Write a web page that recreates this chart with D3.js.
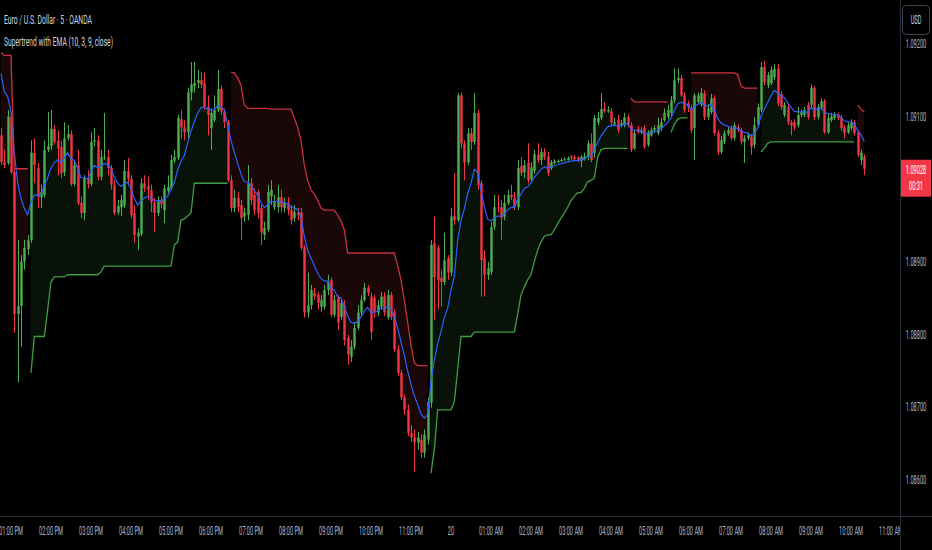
<!DOCTYPE html>
<html><head><meta charset="utf-8">
<script src="https://cdn.jsdelivr.net/npm/d3@7"></script>
<style>html,body{margin:0;padding:0;background:#000;overflow:hidden}svg{display:block}</style>
</head><body>
<svg id="chart" width="932" height="550"></svg>
<script>
const symbolTitle = "Euro / U.S. Dollar · 5 · OANDA";
const indicatorTitle = "Supertrend with EMA (10, 3, 9, close)";
const currency = "USD";
const countdown = "00:31";
const barMinutes = 5;
const firstBar = new Date(2024, 2, 19, 12, 45);

const open = [
1.09074,1.09037,1.09036,1.09099,1.09023,1.08828,1.08839,1.08900,1.08917,1.08930,
1.09050,1.09029,1.08989,1.08992,1.09054,1.09059,1.09083,1.09067,1.09058,1.09023,
1.09070,1.09076,1.09007,1.09033,1.08981,1.08967,1.09015,1.09007,1.09065,1.09067,
1.09017,1.09044,1.09044,1.09029,1.09006,1.08968,1.08975,1.08977,1.09025,1.09014,
1.08967,1.08935,1.08938,1.09008,1.09004,1.08999,1.08982,1.08967,1.08985,1.08971,
1.08997,1.09001,1.09039,1.09043,1.09096,1.09085,1.09078,1.09133,1.09142,1.09146,
1.09150,1.09146,1.09113,1.09084,1.09095,1.09109,1.09138,1.09107,1.09092,1.09012,
1.08974,1.08988,1.08978,1.08962,1.08964,1.09008,1.08992,1.08996,1.08974,1.08937,
1.08944,1.08990,1.08975,1.08975,1.08989,1.08974,1.08981,1.08971,1.08960,1.08968,
1.08968,1.08920,1.08830,1.08840,1.08857,1.08854,1.08838,1.08838,1.08861,1.08875,
1.08827,1.08850,1.08824,1.08840,1.08795,1.08769,1.08783,1.08809,1.08830,1.08847,
1.08864,1.08852,1.08850,1.08830,1.08838,1.08852,1.08823,1.08854,1.08830,1.08779,
1.08747,1.08713,1.08696,1.08664,1.08658,1.08651,1.08655,1.08637,1.08655,1.08706,
1.08926,1.08919,1.08878,1.08872,1.08905,1.08885,1.08963,1.08957,1.09129,1.09063,
1.09037,1.09077,1.09065,1.09105,1.09008,1.08905,1.08882,1.08886,1.08948,1.08975,
1.08975,1.08962,1.08981,1.08992,1.08988,1.08975,1.09032,1.09023,1.09036,1.09014,
1.09025,1.09048,1.09040,1.09051,1.09045,1.09029,1.09036,1.09037,1.09039,1.09040,
1.09040,1.09045,1.09044,1.09044,1.09039,1.09041,1.09044,1.09063,1.09050,1.09092,
1.09098,1.09111,1.09107,1.09107,1.09089,1.09096,1.09088,1.09088,1.09099,1.09088,
1.09056,1.09083,1.09078,1.09084,1.09061,1.09074,1.09081,1.09077,1.09084,1.09095,
1.09099,1.09105,1.09122,1.09150,1.09153,1.09129,1.09118,1.09111,1.09084,1.09120,
1.09116,1.09132,1.09099,1.09106,1.09125,1.09077,1.09051,1.09065,1.09076,1.09084,
1.09070,1.09085,1.09081,1.09065,1.09070,1.09072,1.09061,1.09088,1.09109,1.09168,
1.09143,1.09146,1.09154,1.09166,1.09131,1.09102,1.09113,1.09092,1.09092,1.09088,
1.09102,1.09102,1.09116,1.09116,1.09139,1.09099,1.09111,1.09121,1.09078,1.09095,
1.09098,1.09102,1.09099,1.09085,1.09078,1.09084,1.09092,1.09078,1.09040,1.09044];

const high = [
1.09084,1.09054,1.09109,1.09105,1.09026,1.08930,1.08909,1.08930,1.08937,1.09067,
1.09070,1.09036,1.09006,1.09067,1.09106,1.09109,1.09088,1.09081,1.09067,1.09092,
1.09088,1.09081,1.09040,1.09054,1.08990,1.09019,1.09026,1.09078,1.09084,1.09074,
1.09054,1.09105,1.09054,1.09033,1.09012,1.08985,1.08992,1.09040,1.09043,1.09019,
1.08978,1.08946,1.09015,1.09019,1.09017,1.09006,1.08988,1.08990,1.08990,1.09006,
1.09019,1.09047,1.09054,1.09102,1.09109,1.09095,1.09139,1.09175,1.09175,1.09164,
1.09161,1.09160,1.09129,1.09111,1.09129,1.09164,1.09143,1.09111,1.09095,1.09019,
1.08999,1.08996,1.08985,1.08974,1.09033,1.09015,1.09001,1.08999,1.08978,1.08955,
1.09006,1.09012,1.08992,1.09006,1.08999,1.08988,1.08989,1.08978,1.08978,1.08974,
1.08974,1.08923,1.08885,1.08868,1.08864,1.08858,1.08854,1.08868,1.08882,1.08878,
1.08854,1.08854,1.08850,1.08847,1.08799,1.08792,1.08817,1.08840,1.08854,1.08871,
1.08868,1.08857,1.08854,1.08847,1.08858,1.08858,1.08861,1.08858,1.08834,1.08785,
1.08751,1.08717,1.08703,1.08675,1.08669,1.08666,1.08662,1.08669,1.08713,1.08930,
1.08962,1.08923,1.08889,1.08940,1.08909,1.08974,1.09022,1.09132,1.09133,1.09067,
1.09084,1.09084,1.09132,1.09109,1.09012,1.08916,1.08900,1.08955,1.08992,1.08992,
1.08985,1.08992,1.08999,1.09006,1.08996,1.09040,1.09044,1.09040,1.09063,1.09037,
1.09054,1.09063,1.09056,1.09056,1.09051,1.09040,1.09041,1.09041,1.09043,1.09044,
1.09045,1.09047,1.09047,1.09045,1.09047,1.09050,1.09067,1.09077,1.09102,1.09106,
1.09132,1.09120,1.09114,1.09111,1.09098,1.09102,1.09095,1.09105,1.09103,1.09092,
1.09081,1.09087,1.09085,1.09088,1.09081,1.09085,1.09088,1.09098,1.09098,1.09111,
1.09116,1.09128,1.09166,1.09166,1.09157,1.09133,1.09122,1.09116,1.09132,1.09133,
1.09139,1.09136,1.09117,1.09131,1.09129,1.09081,1.09073,1.09081,1.09085,1.09088,
1.09092,1.09089,1.09084,1.09074,1.09078,1.09076,1.09099,1.09118,1.09175,1.09177,
1.09161,1.09169,1.09172,1.09172,1.09135,1.09120,1.09117,1.09095,1.09096,1.09113,
1.09110,1.09113,1.09120,1.09144,1.09142,1.09117,1.09125,1.09124,1.09103,1.09105,
1.09106,1.09105,1.09102,1.09089,1.09092,1.09096,1.09095,1.09081,1.09054,1.09048];

const low = [
1.09033,1.09029,1.09033,1.09021,1.08802,1.08734,1.08783,1.08889,1.08909,1.08926,
1.09008,1.08974,1.08974,1.08988,1.09051,1.09054,1.09061,1.09019,1.09015,1.09018,
1.09067,1.09004,1.09004,1.08978,1.08960,1.08957,1.09001,1.09004,1.09059,1.09012,
1.09012,1.09040,1.09019,1.08999,1.08964,1.08964,1.08963,1.08974,1.09006,1.08960,
1.08926,1.08916,1.08935,1.08996,1.08985,1.08968,1.08941,1.08963,1.08974,1.08953,
1.08995,1.08999,1.09036,1.09040,1.09070,1.09067,1.09070,1.09122,1.09133,1.09139,
1.09139,1.09109,1.09074,1.09054,1.09092,1.09106,1.09102,1.09084,1.09010,1.08968,
1.08968,1.08968,1.08930,1.08955,1.08957,1.08978,1.08964,1.08960,1.08923,1.08930,
1.08941,1.08978,1.08971,1.08968,1.08968,1.08968,1.08964,1.08951,1.08955,1.08957,
1.08916,1.08823,1.08823,1.08834,1.08847,1.08834,1.08831,1.08834,1.08854,1.08823,
1.08823,1.08806,1.08820,1.08785,1.08758,1.08762,1.08779,1.08806,1.08825,1.08845,
1.08853,1.08792,1.08823,1.08825,1.08834,1.08825,1.08820,1.08820,1.08776,1.08743,
1.08710,1.08689,1.08660,1.08652,1.08611,1.08641,1.08630,1.08630,1.08648,1.08699,
1.08820,1.08834,1.08838,1.08868,1.08875,1.08880,1.08951,1.08955,1.09056,1.09012,
1.09033,1.09054,1.09061,1.08999,1.08852,1.08852,1.08875,1.08882,1.08944,1.08968,
1.08930,1.08957,1.08978,1.08985,1.08971,1.08971,1.09018,1.09015,1.09008,1.09010,
1.09021,1.09036,1.09033,1.09040,1.09018,1.09026,1.09034,1.09036,1.09037,1.09039,
1.09039,1.09040,1.09040,1.09037,1.09030,1.09039,1.09040,1.09037,1.09043,1.09088,
1.09095,1.09105,1.09105,1.09088,1.09087,1.09077,1.09085,1.09085,1.09085,1.09051,
1.09054,1.09076,1.09076,1.09055,1.09058,1.09072,1.09078,1.09074,1.09080,1.09092,
1.09096,1.09100,1.09118,1.09146,1.09127,1.09105,1.09106,1.09077,1.09040,1.09117,
1.09113,1.09095,1.09095,1.09103,1.09074,1.09047,1.09048,1.09062,1.09073,1.09067,
1.09067,1.09078,1.09061,1.09036,1.09067,1.09047,1.09056,1.09085,1.09106,1.09143,
1.09139,1.09143,1.09150,1.09114,1.09109,1.09099,1.09088,1.09074,1.09081,1.09085,
1.09099,1.09099,1.09096,1.09111,1.09095,1.09096,1.09109,1.09076,1.09076,1.09092,
1.09095,1.09095,1.09080,1.09070,1.09076,1.09081,1.09074,1.09044,1.09033,1.09019];

const close = [
1.09037,1.09033,1.09100,1.09023,1.08828,1.08839,1.08900,1.08919,1.08930,1.09050,
1.09033,1.08989,1.08996,1.09054,1.09059,1.09083,1.09065,1.09056,1.09022,1.09070,
1.09076,1.09007,1.09033,1.08981,1.08967,1.09015,1.09007,1.09065,1.09067,1.09017,
1.09044,1.09045,1.09029,1.09006,1.08967,1.08977,1.08985,1.09025,1.09014,1.08964,
1.08937,1.08940,1.09008,1.09001,1.08999,1.08982,1.08967,1.08985,1.08979,1.09001,
1.09003,1.09040,1.09044,1.09098,1.09085,1.09078,1.09133,1.09144,1.09146,1.09150,
1.09144,1.09113,1.09102,1.09105,1.09109,1.09138,1.09107,1.09092,1.09012,1.08974,
1.08988,1.08975,1.08960,1.08968,1.09008,1.08985,1.08971,1.08967,1.08940,1.08946,
1.08996,1.08999,1.08982,1.08989,1.08975,1.08981,1.08971,1.08957,1.08968,1.08964,
1.08919,1.08830,1.08840,1.08861,1.08852,1.08843,1.08847,1.08861,1.08872,1.08827,
1.08847,1.08816,1.08843,1.08792,1.08772,1.08783,1.08809,1.08830,1.08847,1.08864,
1.08857,1.08803,1.08830,1.08840,1.08852,1.08830,1.08854,1.08824,1.08779,1.08747,
1.08713,1.08696,1.08664,1.08658,1.08651,1.08658,1.08637,1.08662,1.08707,1.08923,
1.08879,1.08875,1.08872,1.08902,1.08885,1.08962,1.08957,1.09129,1.09063,1.09037,
1.09077,1.09065,1.09105,1.09006,1.08902,1.08882,1.08891,1.08948,1.08975,1.08974,
1.08960,1.08981,1.08992,1.08989,1.08975,1.09029,1.09022,1.09033,1.09012,1.09030,
1.09048,1.09040,1.09051,1.09044,1.09022,1.09037,1.09039,1.09039,1.09040,1.09041,
1.09043,1.09043,1.09041,1.09040,1.09044,1.09045,1.09063,1.09040,1.09098,1.09098,
1.09110,1.09107,1.09109,1.09092,1.09092,1.09081,1.09091,1.09099,1.09088,1.09054,
1.09077,1.09078,1.09081,1.09058,1.09078,1.09081,1.09084,1.09088,1.09092,1.09105,
1.09109,1.09122,1.09150,1.09153,1.09129,1.09109,1.09113,1.09081,1.09129,1.09129,
1.09132,1.09099,1.09111,1.09125,1.09077,1.09051,1.09067,1.09077,1.09081,1.09070,
1.09088,1.09081,1.09065,1.09070,1.09074,1.09058,1.09088,1.09113,1.09168,1.09147,
1.09157,1.09164,1.09166,1.09118,1.09113,1.09116,1.09092,1.09088,1.09085,1.09102,
1.09106,1.09109,1.09099,1.09139,1.09099,1.09113,1.09121,1.09078,1.09098,1.09100,
1.09102,1.09098,1.09084,1.09077,1.09088,1.09092,1.09077,1.09047,1.09050,1.09028];

const supertrend = [
1.09188,1.09184,1.09184,1.09184,1.09028,1.09028,1.09028,1.09028,1.09028,1.08747,
1.08797,1.08797,1.08797,1.08797,1.08834,1.08872,1.08879,1.08879,1.08879,1.08879,
1.08882,1.08882,1.08882,1.08882,1.08882,1.08882,1.08882,1.08882,1.08882,1.08882,
1.08886,1.08894,1.08894,1.08894,1.08894,1.08894,1.08894,1.08894,1.08894,1.08894,
1.08894,1.08894,1.08894,1.08894,1.08894,1.08894,1.08894,1.08894,1.08894,1.08894,
1.08894,1.08894,1.08923,1.08927,1.08957,1.08959,1.08963,1.08967,1.09008,1.09008,
1.09008,1.09008,1.09008,1.09008,1.09008,1.09008,1.09008,1.09008,1.09008,1.09161,
1.09160,1.09153,1.09143,1.09116,1.09111,1.09111,1.09111,1.09111,1.09111,1.09111,
1.09111,1.09110,1.09110,1.09110,1.09110,1.09110,1.09110,1.09110,1.09098,1.09085,
1.09067,1.09033,1.09012,1.08999,1.08993,1.08985,1.08974,1.08971,1.08971,1.08971,
1.08971,1.08964,1.08956,1.08944,1.08912,1.08912,1.08912,1.08912,1.08912,1.08912,
1.08912,1.08912,1.08912,1.08912,1.08912,1.08912,1.08912,1.08912,1.08912,1.08895,
1.08875,1.08847,1.08817,1.08785,1.08761,1.08757,1.08757,1.08757,1.08757,1.08609,
1.08641,1.08696,1.08696,1.08696,1.08696,1.08696,1.08707,1.08751,1.08797,1.08797,
1.08797,1.08797,1.08803,1.08803,1.08803,1.08803,1.08803,1.08803,1.08803,1.08803,
1.08803,1.08803,1.08803,1.08803,1.08803,1.08827,1.08854,1.08865,1.08875,1.08882,
1.08900,1.08916,1.08927,1.08935,1.08937,1.08937,1.08944,1.08952,1.08960,1.08967,
1.08975,1.08984,1.08990,1.08995,1.08995,1.09001,1.09010,1.09012,1.09015,1.09044,
1.09054,1.09056,1.09056,1.09056,1.09056,1.09056,1.09056,1.09056,1.09056,1.09125,
1.09120,1.09120,1.09120,1.09120,1.09120,1.09120,1.09120,1.09120,1.09120,1.09120,
1.09120,1.09078,1.09089,1.09096,1.09098,1.09098,1.09098,1.09160,1.09160,1.09160,
1.09160,1.09160,1.09160,1.09160,1.09160,1.09160,1.09160,1.09160,1.09160,1.09160,
1.09160,1.09158,1.09142,1.09139,1.09139,1.09139,1.09139,1.09139,1.09051,1.09056,
1.09063,1.09065,1.09065,1.09065,1.09065,1.09065,1.09065,1.09065,1.09065,1.09065,
1.09065,1.09065,1.09065,1.09065,1.09065,1.09065,1.09065,1.09065,1.09065,1.09065,
1.09065,1.09065,1.09065,1.09065,1.09065,1.09065,1.09065,1.09116,1.09110,1.09106];

const emaLength = 9;
const emaPrevValue = 1.09190;
const priceTicks = [1.08600,1.08700,1.08800,1.08900,1.09000,1.09100,1.09200];
const timeTickLabels = ["01:00 PM","02:00 PM","03:00 PM","04:00 PM","05:00 PM","06:00 PM","07:00 PM","08:00 PM","09:00 PM","10:00 PM","11:00 PM","20","01:00 AM","02:00 AM","03:00 AM","04:00 AM","05:00 AM","06:00 AM","07:00 AM","08:00 AM","09:00 AM","10:00 AM","11:00 AM"];

// ---- build ----
const n = close.length;
const times = d3.range(n).map(i => new Date(firstBar.getTime() + i * barMinutes * 60000));
const bars = times.map((t, i) => ({
  t, o: open[i], h: high[i], l: low[i], c: close[i],
  st: supertrend[i], dir: close[i] > supertrend[i] ? 1 : -1
}));
let emaRun = emaPrevValue;
const k = 2 / (emaLength + 1);
bars.forEach(b => { emaRun = emaRun + k * (b.c - emaRun); b.ema = emaRun; });

const W = 932, H = 550, plotRight = 900, plotBottom = 516;
const svg = d3.select("#chart");
svg.append("rect").attr("width", W).attr("height", H).attr("fill", "#000");

const x = d3.scaleTime().domain([times[0], times[n - 1]]).range([1, 864.3]);
const y = d3.scaleLinear().domain([1.086, 1.092]).range([479.6, 43.8]);

const defs = svg.append("defs");
defs.append("clipPath").attr("id", "plotclip")
  .append("rect").attr("x", 0).attr("y", 0).attr("width", plotRight).attr("height", plotBottom);
defs.append("clipPath").attr("id", "timeclip")
  .append("rect").attr("x", 0).attr("y", plotBottom).attr("width", plotRight).attr("height", H - plotBottom);
const plot = svg.append("g").attr("clip-path", "url(#plotclip)");

// trend runs
const runs = [];
bars.forEach(b => {
  if (!runs.length || runs[runs.length - 1].dir !== b.dir) runs.push({ dir: b.dir, bars: [] });
  runs[runs.length - 1].bars.push(b);
});
const upLine = "#3f9c43", dnLine = "#c8313e";
const upFill = "rgba(76,175,80,0.10)", dnFill = "rgba(255,82,82,0.10)";
const area = d3.area().x(d => x(d.t)).y0(d => y(d.st)).y1(d => y((d.o + d.c) / 2));
const stLine = d3.line().x(d => x(d.t)).y(d => y(d.st));
runs.forEach(r => {
  plot.append("path").attr("d", area(r.bars)).attr("fill", r.dir > 0 ? upFill : dnFill);
});

// candles
const upCol = "#4caf50", dnCol = "#f23645";
const bw = 2.4;
const cg = plot.append("g");
cg.selectAll("line").data(bars).join("line")
  .attr("x1", d => Math.round(x(d.t)) + 0.5).attr("x2", d => Math.round(x(d.t)) + 0.5)
  .attr("y1", d => y(d.h)).attr("y2", d => y(d.l))
  .attr("stroke", d => d.c >= d.o ? upCol : dnCol).attr("stroke-width", 1);
cg.selectAll("rect").data(bars).join("rect")
  .attr("x", d => Math.round(x(d.t)) + 0.5 - bw / 2).attr("width", bw)
  .attr("y", d => y(Math.max(d.o, d.c)))
  .attr("height", d => Math.max(1, Math.abs(y(d.o) - y(d.c))))
  .attr("fill", d => d.c >= d.o ? upCol : dnCol);

// EMA
plot.append("path").datum(bars)
  .attr("d", d3.line().x(d => x(d.t)).y(d => y(d.ema)))
  .attr("fill", "none").attr("stroke", "#2962ff").attr("stroke-width", 1.2);

// supertrend lines
runs.forEach(r => {
  plot.append("path").attr("d", stLine(r.bars)).attr("fill", "none")
    .attr("stroke", r.dir > 0 ? upLine : dnLine).attr("stroke-width", 1.3);
});

// separators
svg.append("line").attr("x1", plotRight + 0.5).attr("x2", plotRight + 0.5).attr("y1", 0).attr("y2", H)
  .attr("stroke", "#2a2e39");
svg.append("line").attr("x1", 0).attr("x2", W).attr("y1", plotBottom + 0.5).attr("y2", plotBottom + 0.5)
  .attr("stroke", "#2a2e39");

const SQ = 0.47;
function sqText(g, px, py, str, opt) {
  opt = opt || {};
  return g.append("text")
    .attr("transform", `translate(${px},${py}) scale(${opt.sx || SQ},1)`)
    .attr("text-anchor", opt.anchor || "middle")
    .attr("dominant-baseline", "central")
    .attr("font-family", "Roboto, 'DejaVu Sans', sans-serif")
    .attr("font-size", opt.size || 12)
    .attr("fill", opt.fill || "#b2b5be")
    .text(str);
}

// last price label geometry (drawn later, on top)
const last = bars[n - 1];
const ly = y(last.c);
const boxTop = ly - 9, boxBottom = ly + 28;

// price axis (labels hidden under the last-price box are not drawn)
const pAxis = svg.append("g");
priceTicks.forEach(p => {
  const py = y(p);
  if (py > boxTop - 6 && py < boxBottom + 6) return;
  sqText(pAxis, 916, py, d3.format(".5f")(p));
});

// time axis
const tAxis = svg.append("g").attr("clip-path", "url(#timeclip)");
const firstTick = new Date(2024, 2, 19, 13, 0);
timeTickLabels.forEach((lab, i) => {
  const t = d3.timeHour.offset(firstTick, i);
  sqText(tAxis, x(t), 531, lab);
});

// USD box
svg.append("rect").attr("x", 902.5).attr("y", 5.5).attr("width", 27).attr("height", 29).attr("rx", 4)
  .attr("fill", "#000").attr("stroke", "#40434d");
sqText(svg, 916, 20, currency, { fill: "#d1d4dc" });

// last price label
svg.append("rect").attr("x", plotRight + 1).attr("y", boxTop).attr("width", W - plotRight - 2).attr("height", boxBottom - boxTop)
  .attr("fill", last.c >= last.o ? upCol : dnCol);
sqText(svg, 916, ly + 1, d3.format(".5f")(last.c), { fill: "#fff" });
sqText(svg, 916, ly + 17, countdown, { fill: "#fff" });

// legend
svg.append("text").attr("x", 4).attr("y", 20).attr("dominant-baseline", "central")
  .attr("font-family", "Roboto, 'DejaVu Sans', sans-serif").attr("font-size", 12)
  .attr("fill", "#d1d4dc").attr("textLength", 88).attr("lengthAdjust", "spacingAndGlyphs")
  .text(symbolTitle);
svg.append("text").attr("x", 4).attr("y", 42).attr("dominant-baseline", "central")
  .attr("font-family", "Roboto, 'DejaVu Sans', sans-serif").attr("font-size", 12)
  .attr("fill", "#d1d4dc").attr("textLength", 109).attr("lengthAdjust", "spacingAndGlyphs")
  .text(indicatorTitle);
</script>
</body></html>
